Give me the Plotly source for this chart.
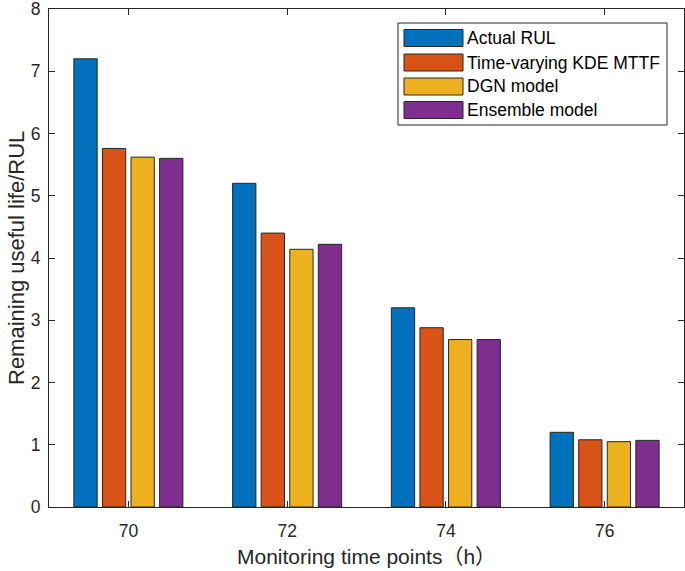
import plotly.graph_objects as go

# ---- data ----
time_points = [70, 72, 74, 76]
series_names = ["Actual RUL", "Time-varying KDE MTTF", "DGN model", "Ensemble model"]
actual_rul = [7.2, 5.2, 3.2, 1.2]
kde_mttf = [5.76, 4.4, 2.88, 1.08]
dgn_model = [5.62, 4.14, 2.69, 1.05]
ensemble_model = [5.6, 4.22, 2.69, 1.07]
y_ticks = [0, 1, 2, 3, 4, 5, 6, 7, 8]

series_values = [actual_rul, kde_mttf, dgn_model, ensemble_model]
colors = ["#0072BD", "#D95319", "#EDB120", "#7E2F8E"]

W, H = 685, 571
L, R, T, B = 49, 1, 9, 64
pw, ph = W - L - R, H - T - B

def px(x):
    return (x - L) / pw

def py(y):
    return 1 - (y - T) / ph

font = "Liberation Sans, Arial, Noto Sans CJK SC, sans-serif"
axis_col = "#262626"

fig = go.Figure()
for name, vals, col in zip(series_names, series_values, colors):
    fig.add_trace(go.Bar(
        x=time_points, y=vals, name=name,
        marker=dict(color=col, line=dict(color="#262626", width=1)),
        showlegend=False,
    ))

# custom MATLAB-like legend
shapes = [dict(type="rect", xref="paper", yref="paper",
               x0=px(398), x1=px(667), y0=py(125), y1=py(23),
               line=dict(color=axis_col, width=1), fillcolor="white", layer="above")]
annotations = []
row_y = [38, 62.5, 86.5, 110]
for name, col, yc in zip(series_names, colors, row_y):
    shapes.append(dict(type="rect", xref="paper", yref="paper",
                       x0=px(404), x1=px(463), y0=py(yc + 8.5), y1=py(yc - 8.5),
                       line=dict(color="#262626", width=1), fillcolor=col, layer="above"))
    annotations.append(dict(xref="paper", yref="paper", x=px(465), y=py(yc),
                            text=name, showarrow=False, xanchor="left", yanchor="middle",
                            font=dict(family=font, size=17.5, color="#000")))

# axis titles
annotations.append(dict(xref="paper", yref="paper", x=px(366), y=py(556),
                        text="Monitoring time points（h）", showarrow=False,
                        xanchor="center", yanchor="middle",
                        font=dict(family=font, size=21, color="#262626")))
annotations.append(dict(xref="paper", yref="paper", x=px(16), y=py(258),
                        text="Remaining useful life/RUL", showarrow=False, textangle=-90,
                        xanchor="center", yanchor="middle",
                        font=dict(family=font, size=22, color="#262626")))

fig.update_layout(
    width=W, height=H,
    margin=dict(l=L, r=R, t=T, b=B, autoexpand=False),
    paper_bgcolor="white", plot_bgcolor="white",
    barmode="group", bargap=0.28, bargroupgap=0.185,
    font=dict(family=font, size=17.5, color="#000"),
    shapes=shapes, annotations=annotations,
)
fig.update_xaxes(
    range=[69, 77], tickvals=time_points, ticktext=[str(t) for t in time_points],
    ticks="inside", ticklen=6, tickcolor=axis_col,
    showline=True, linecolor=axis_col, linewidth=1, mirror="ticks",
    showgrid=False, zeroline=False, automargin=False,
    ticklabelstandoff=8, ticklabeloverflow="allow",
    tickfont=dict(size=17.5, color="#262626"),
)
fig.update_yaxes(
    range=[0, 8], tickvals=y_ticks,
    ticks="inside", ticklen=6, tickcolor=axis_col,
    showline=True, linecolor=axis_col, linewidth=1, mirror="ticks",
    showgrid=False, zeroline=False, automargin=False,
    ticklabelstandoff=4, ticklabeloverflow="allow",
    tickfont=dict(size=17.5, color="#262626"),
)

fig.write_html(
    "out.html",
    config={"displayModeBar": False},
    post_script="document.body.style.margin='0';document.body.style.overflow='hidden';",
)
